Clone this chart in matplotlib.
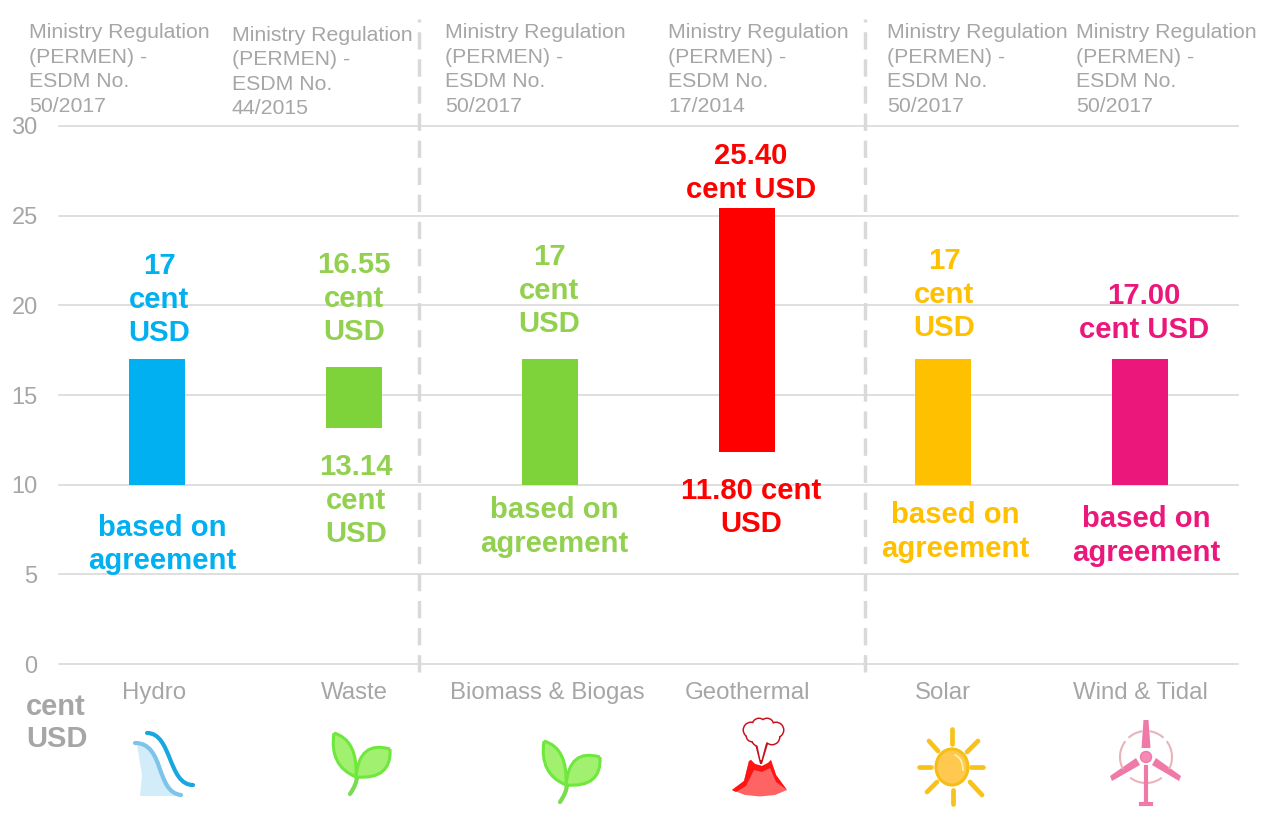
import matplotlib
matplotlib.use("Agg")
import matplotlib.pyplot as plt
import numpy as np
from matplotlib.patches import Circle, Ellipse, PathPatch, Polygon
from matplotlib.path import Path

plt.rcParams['font.family'] = ['Liberation Sans', 'DejaVu Sans']

categories = ["Hydro", "Waste", "Biomass & Biogas", "Geothermal", "Solar", "Wind & Tidal"]
low_values = [10, 13.14, 10, 11.80, 10, 10]
high_values = [17, 16.55, 17, 25.40, 17, 17]
bar_colors = ["#00b0f0", "#7ed33a", "#7ed33a", "#ff0000", "#ffc000", "#ec177b"]
label_colors = ["#00b0f0", "#92d050", "#92d050", "#ff0000", "#ffc000", "#ec177b"]
yticks = [0, 5, 10, 15, 20, 25, 30]
regulations = ["50/2017", "44/2015", "50/2017", "17/2014", "50/2017", "50/2017"]

GREY = "#a6a6a6"
GRID = "#d9d9d9"

W, H = 1277, 838
fig = plt.figure(figsize=(W / 100, H / 100), dpi=100)

# main chart
ax = fig.add_axes([59.2 / W, 1 - 664 / H, (1238 - 59.2) / W, (664 - 126) / H])
x = np.arange(len(categories))
ax.bar(x, np.array(high_values) - np.array(low_values), bottom=low_values,
       width=0.285, color=bar_colors, zorder=3)
ax.set_xlim(-0.5, 5.5)
ax.set_ylim(0, 30)
ax.set_yticks(yticks)
ax.set_xticks([])
ax.grid(axis='y', color=GRID, lw=1.2, zorder=0)
for gl in ax.get_ygridlines():
    gl.set_clip_on(False)
ax.tick_params(axis='y', length=0, labelsize=17, labelcolor=GREY, pad=15.5)
for s in ax.spines.values():
    s.set_visible(False)

# overlay in pixel coordinates for texts and icons
ov = fig.add_axes([0, 0, 1, 1])
ov.set_xlim(0, W)
ov.set_ylim(H, 0)
ov.axis('off')
ov.patch.set_alpha(0)

for vx in [419, 865]:
    ov.plot([vx, vx], [672, 19], color=GRID, lw=2.5, ls=(0, (5, 2.8)))

# regulation notes on top
note_x = [29, 232, 445, 668, 887, 1076]
note_y = [33, 35.5, 33, 33, 33, 33]
for nx, ny, reg in zip(note_x, note_y, regulations):
    for i, line in enumerate(["Ministry Regulation", "(PERMEN) -", "ESDM No.", reg]):
        ov.text(nx, ny + i * 24.4, line, color=GREY, fontsize=15.3, ha='left', va='center')

# category names
name_x = [154, 354, 547, 747, 943, 1140]
for nx, name in zip(name_x, categories):
    ov.text(nx, 693, name, color=GREY, fontsize=17.3, ha='center', va='center')

ov.text(26, 706.5, "cent", color=GREY, fontsize=21, fontweight='bold', ha='left', va='center')
ov.text(26, 738.5, "USD", color=GREY, fontsize=21, fontweight='bold', ha='left', va='center')


def stacked(cx, top, lines, color):
    for i, line in enumerate(lines):
        ov.text(cx, top + i * 33.5, line, color=color, fontsize=21.1, fontweight='bold',
                ha='center', va='center')


# labels above the bars
stacked(159, 266, ["17", "cent", "USD"], label_colors[0])
stacked(354, 265, ["16.55", "cent", "USD"], label_colors[1])
stacked(549, 257, ["17", "cent", "USD"], label_colors[2])
stacked(751, 156, ["25.40", "cent USD"], label_colors[3])
stacked(944, 261, ["17", "cent", "USD"], label_colors[4])
stacked(1144, 296, ["17.00", "cent USD"], label_colors[5])

# labels below the bars
stacked(162, 527.5, ["based on", "agreement"], label_colors[0])
stacked(356, 467, ["13.14", "cent", "USD"], label_colors[1])
stacked(554, 510, ["based on", "agreement"], label_colors[2])
stacked(751, 490.5, ["11.80 cent", "USD"], label_colors[3])
stacked(955, 515, ["based on", "agreement"], label_colors[4])
stacked(1146, 519, ["based on", "agreement"], label_colors[5])


def curve(pts, color, lw):
    codes = [Path.MOVETO] + [Path.CURVE4] * (len(pts) - 1)
    ov.add_patch(PathPatch(Path(pts, codes), fc='none', ec=color, lw=lw, capstyle='round'))


def hydro_icon():
    ov.add_patch(Polygon([(137, 745), (150, 748), (158, 758), (164, 775), (172, 790), (180, 796),
                          (140, 796), (142, 775)], fc="#d3ecfa", ec='none'))
    curve([(147, 733), (172, 733), (168, 785), (193, 785)], "#1aa7e0", 3)
    curve([(135, 743), (165, 743), (155, 792), (181, 795)], "#7cc4ea", 3)


def sprout_icon(ox, oy):
    def leaf(p0, c1, p1, c2, fc):
        pts = [p0, c1, p1, c2, p0]
        codes = [Path.MOVETO, Path.CURVE3, Path.CURVE3, Path.CURVE3, Path.CURVE3]
        pts = [(ox + a, oy + b) for a, b in pts]
        ov.add_patch(PathPatch(Path(pts, codes), fc=fc, ec='#6ee83c', lw=2.2))
    curve([(ox + 25, oy + 44), (ox + 25, oy + 50), (ox + 22, oy + 56), (ox + 18, oy + 62)], "#78dc50", 3)
    leaf((2, 1), (-3, 34), (24, 45), (26, 8), "#a2f070")
    leaf((58, 17), (27, 8), (24, 45), (60, 48), "#a2f070")


def volcano_icon():
    # cloud: red discs first, smaller white discs on top
    blobs = [(751, 730, 7), (759, 725, 6), (767, 725, 6), (776, 730, 7), (772, 737, 7),
             (760, 738, 8), (752, 736, 5), (764, 731, 9)]
    for bx, by, r in blobs:
        ov.add_patch(Circle((bx, by), r + 1.5, fc="#c8101a", ec='none'))
    ov.add_patch(Polygon([(755, 744), (768, 744), (762, 764), (760, 764)], fc="#c8101a", ec='none'))
    for bx, by, r in blobs:
        ov.add_patch(Circle((bx, by), r, fc='white', ec='none'))
    ov.add_patch(Polygon([(757, 743), (766, 743), (761.5, 760), (760.5, 760)], fc='white', ec='none'))
    top = [(732, 790), (744, 781), (749, 761), (751, 760), (755, 764), (762, 766),
           (768, 763), (771, 760), (776, 775), (787, 790)]
    bottom = [(775, 795), (760, 796.5), (745, 795)]
    ov.add_patch(Polygon(top + bottom, fc="#ff6464", ec='none'))
    ov.add_patch(Polygon(top[:-1] + [(787, 790), (776, 782), (770, 768), (762, 772), (754, 770), (746, 786), (736, 792)],
                         fc="#ff1414", ec='none'))


def sun_icon():
    ov.add_patch(Ellipse((952, 767), 32, 36, fc="#ffc94f", ec="#f6bd16", lw=2.2))
    curve([(955, 755), (960, 757), (963, 762), (963, 770)], "#ffeea0", 1.4)
    rays = [((952, 729), (952, 744)), ((953, 790), (953, 804)), ((919, 767), (931, 767)),
            ((971, 767), (983, 767)), ((929, 741), (938, 751)), ((978, 741), (967, 752)),
            ((927, 792), (937, 782)), ((982, 795), (970, 782))]
    for a, b in rays:
        ov.plot([a[0], b[0]], [a[1], b[1]], color="#f8c21c", lw=3.4, solid_capstyle='round')


def turbine_icon():
    hx, hy = 1146, 757
    for t0, t1 in [(100, 130), (50, 80), (145, 205), (-25, 35), (235, 305)]:
        theta = np.radians(np.linspace(t0, t1, 30))
        ov.plot(hx + 26 * np.cos(theta), hy - 26 * np.sin(theta), color="#e8b4bc", lw=1.5)
    ov.plot([hx, hx], [767, 803], color="#ef7aa8", lw=3)
    ov.plot([hx - 5, hx + 5], [803.5, 803.5], color="#ef7aa8", lw=3)
    ov.add_patch(Polygon([(1143.5, 720), (1148.5, 720), (1150.5, 748), (1141.5, 748)], fc="#ef7aa8", ec='none'))
    ov.add_patch(Polygon([(1110, 776), (1136, 758), (1140, 765), (1112, 781)], fc="#ef7aa8", ec='none'))
    ov.add_patch(Polygon([(1181, 776), (1156, 758), (1152, 765), (1179, 781)], fc="#ef7aa8", ec='none'))
    ov.add_patch(Circle((hx, hy), 5.5, fc="#f48ab5", ec="#ef7aa8", lw=1))


hydro_icon()
sprout_icon(332, 732)
sprout_icon(542, 740)
volcano_icon()
sun_icon()
turbine_icon()

fig.savefig("out.png", dpi=100)
